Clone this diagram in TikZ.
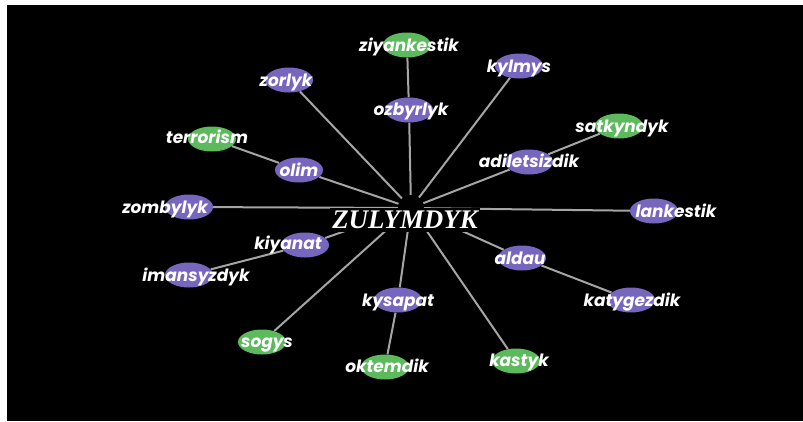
\documentclass[tikz,border=0pt]{standalone}
\usepackage{fontspec}
\newfontfamily\labfont{Poppins}
\newfontfamily\hubfont{Liberation Serif}
\usetikzlibrary{shapes.geometric}
\definecolor{nodepurple}{RGB}{118,102,190}
\definecolor{nodegreen}{RGB}{92,186,92}
\definecolor{linkgray}{RGB}{165,165,165}
\pgfdeclarelayer{bg}
\pgfdeclarelayer{edges}
\pgfsetlayers{bg,edges,main}
\tikzset{
  term/.style={ellipse, minimum width=48bp, minimum height=25bp, inner sep=0pt},
  purple term/.style={term, fill=nodepurple},
  green term/.style={term, fill=nodegreen},
  tag/.style={text=white, inner sep=0pt, text height=14bp, text depth=2bp,
    font=\labfont\bfseries\itshape\fontsize{17}{17}\selectfont},
  link/.style={draw=linkgray, line width=2bp},
}
\begin{document}
\begin{tikzpicture}[x=1bp,y=-1bp]
\useasboundingbox (0,0) rectangle (803,421);
\begin{pgfonlayer}{bg}
  \fill[white] (0,0) rectangle (803,421);
  \fill[black] (7,5) rectangle (803,421);
\end{pgfonlayer}

% hub: the spokes stop at its rim
\node[circle, minimum size=26bp, inner sep=0pt] (hub) at (411,208) {};

% first ring and leaves
\node[green term]  (ziyankestik)  at (407,45)  {};
\node[purple term] (kylmys)       at (519,66)  {};
\node[purple term] (zorlyk)       at (289,80)  {};
\node[purple term] (ozbyrlyk)     at (409,110) {};
\node[green term]  (satkyndyk)    at (619,126) {};
\node[green term]  (terrorism)    at (212,139) {};
\node[purple term] (adiletsizdik) at (529,162) {};
\node[purple term] (olim)         at (299,170) {};
\node[purple term] (zombylyk)     at (189,207) {};
\node[purple term] (lankestik)    at (654,211) {};
\node[purple term] (kiyanat)      at (305,245) {};
\node[purple term] (imansyzdyk)   at (189,275) {};
\node[purple term] (aldau)        at (522,258) {};
\node[purple term] (kysapat)      at (398,300) {};
\node[purple term] (katygezdik)   at (631,300) {};
\node[green term]  (sogys)        at (262,342) {};
\node[green term]  (oktemdik)     at (385,367) {};
\node[green term]  (kastyk)       at (516,361) {};

% labels
\node[tag] (t-ziyankestik)  at (409,45)  {ziyankestik};
\node[tag] (t-kylmys)       at (519,66)  {kylmys};
\node[tag] (t-zorlyk)       at (286,80)  {zorlyk};
\node[tag] (t-ozbyrlyk)     at (411,109) {ozbyrlyk};
\node[tag] (t-satkyndyk)    at (622,126) {satkyndyk};
\node[tag] (t-terrorism)    at (207,137) {terrorism};
\node[tag] (t-adiletsizdik) at (529,161) {adiletsizdik};
\node[tag] (t-olim)         at (299,170) {olim};
\node[tag] (t-zombylyk)     at (165,207) {zombylyk};
\node[tag] (t-lankestik)    at (676,211) {lankestik};
\node[tag] (t-kiyanat)      at (288,243) {kiyanat};
\node[tag] (t-imansyzdyk)   at (196,275) {imansyzdyk};
\node[tag] (t-aldau)        at (520,258) {aldau};
\node[tag] (t-kysapat)      at (398,300) {kysapat};
\node[tag] (t-katygezdik)   at (632,300) {katygezdik};
\node[tag] (t-sogys)        at (267,341) {sogys};
\node[tag] (t-oktemdik)     at (387,366) {oktemdik};
\node[tag] (t-kastyk)       at (519,360) {kastyk};

% central word
\node[fill=black, text=white, inner xsep=2bp, inner ysep=3bp,
      font=\hubfont\bfseries\itshape\fontsize{27}{27}\selectfont]
  (hublabel) at (405,220) {ZULYMDYK};

\begin{pgfonlayer}{edges}
  \foreach \n in {ozbyrlyk,kylmys,zorlyk,adiletsizdik,olim,zombylyk,
                  lankestik,kiyanat,aldau,kysapat,sogys,kastyk}
    \draw[link] (hub) -- (\n);
  \draw[link] (ozbyrlyk) -- (ziyankestik);
  \draw[link] (adiletsizdik) -- (satkyndyk);
  \draw[link] (olim) -- (terrorism);
  \draw[link] (kiyanat) -- (imansyzdyk);
  \draw[link] (aldau) -- (katygezdik);
  \draw[link] (kysapat) -- (oktemdik);
\end{pgfonlayer}
\end{tikzpicture}
\end{document}
